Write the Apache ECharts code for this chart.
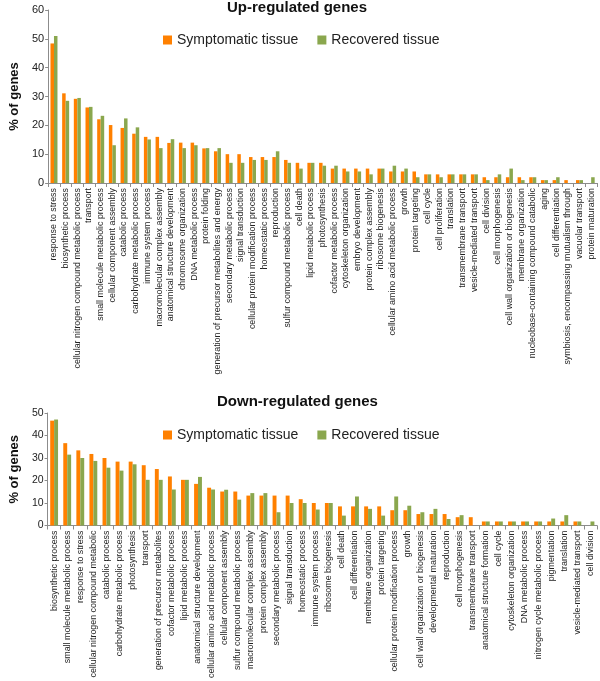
<!DOCTYPE html>
<html>
<head>
<meta charset="utf-8">
<script src="https://cdn.jsdelivr.net/npm/echarts@6/dist/echarts.min.js"></script>
<style>
html,body{margin:0;padding:0;background:#fff;}
#chart{width:600px;height:681px;}
</style>
</head>
<body>
<div id="chart"></div>
<script>
var upCategories = ["response to stress","biosynthetic process","cellular nitrogen compound metabolic process","transport","small molecule metabolic process","cellular component assembly","catabolic process","carbohydrate metabolic process","immune system process","macromolecular complex assembly","anatomical structure development","chromosome organization","DNA metabolic process","protein folding","generation of precursor metabolites and energy","secondary metabolic process","signal transduction","cellular protein modification process","homeostatic process","reproduction","sulfur compound metabolic process","cell death","lipid metabolic process","photosynthesis","cofactor metabolic process","cytoskeleton organization","embryo development","protein complex assembly","ribosome biogenesis","cellular amino acid metabolic process","growth","protein targeting","cell cycle","cell proliferation","translation","transmembrane transport","vesicle-mediated transport","cell division","cell morphogenesis","cell wall organization or biogenesis","membrane organization","nucleobase-containing compound catabolic","aging","cell differentiation","symbiosis, encompassing mutualism through","vacuolar transport","protein maturation"];
var upSymptomatic = [48.4,31.1,29.2,26.2,22.1,20.1,19.1,17.1,16.0,16.0,13.9,14.0,14.0,12.0,11.0,10.0,10.0,9.0,9.0,9.0,8.0,7.0,7.0,7.0,5.0,5.0,5.0,5.0,5.0,4.0,4.0,4.0,3.0,3.0,3.0,3.0,3.0,2.0,2.0,2.0,2.0,2.0,1.0,1.0,1.0,1.0,0];
var upRecovered = [51.0,28.5,29.5,26.4,23.3,13.1,22.4,19.3,15.1,12.1,15.2,12.1,13.1,12.1,12.1,7.0,7.0,8.0,8.0,11.0,7.0,5.0,7.0,6.0,6.0,4.0,4.0,3.0,5.0,6.0,5.0,2.0,3.0,2.0,3.0,3.0,3.0,1.0,3.0,5.0,1.0,2.0,1.0,2.0,0,1.0,2.0];

var downCategories = ["biosynthetic process","small molecule metabolic process","response to stress","cellular nitrogen compound metabolic","catabolic process","carbohydrate metabolic process","photosynthesis","transport","generation of precursor metabolites","cofactor metabolic process","lipid metabolic process","anatomical structure development","cellular amino acid metabolic process","cellular component assembly","sulfur compound metabolic process","macromolecular complex assembly","protein complex assembly","secondary metabolic process","signal transduction","homeostatic process","immune system process","ribosome biogenesis","cell death","cell differentiation","membrane organization","protein targeting","cellular protein modification process","growth","cell wall organization or biogenesis","developmental maturation","reproduction","cell morphogenesis","transmembrane transport","anatomical structure formation","cell cycle","cytoskeleton organization","DNA metabolic process","nitrogen cycle metabolic process","pigmentation","translation","vesicle-mediated transport","cell division"];
var downSymptomatic = [46.6,36.6,33.4,31.8,30.0,28.4,28.4,26.8,25.1,21.8,20.3,18.5,16.8,15.1,15.1,13.3,13.3,13.3,13.3,11.7,10.0,10.0,8.5,8.5,8.5,8.5,6.8,6.8,5.1,5.1,5.1,3.7,3.7,1.8,1.8,1.8,1.8,1.8,1.8,1.8,1.8,0];
var downRecovered = [47.1,31.5,30.0,28.7,25.7,24.4,27.2,20.3,20.3,16.0,20.3,21.6,16.0,15.9,11.5,14.4,14.4,5.9,10.0,10.0,7.1,10.0,4.4,12.9,7.4,4.4,12.9,8.8,5.9,7.4,2.9,4.6,0,1.8,1.8,1.8,1.8,1.8,3.1,4.6,1.8,1.8];

var upTicks = [0,10,20,30,40,50,60];
var downTicks = [0,10,20,30,40,50];

var ORANGE = '#FF8000';
var GREEN = '#8AA74E';
var FONT = 'Liberation Sans';
var axisGrey = '#8C8C8C';

var chart = echarts.init(document.getElementById('chart'), null, {renderer:'canvas'});

function xAxisDef(idx, cats){
  return {
    type:'category', gridIndex: idx, data: cats,
    axisLine:{lineStyle:{color:axisGrey, width:1}},
    axisTick:{show:true, length:4, lineStyle:{color:axisGrey}},
    axisLabel:{rotate:90, interval:0, fontSize:8.9, fontFamily:FONT, color:'#222', margin:5}
  };
}
function yAxisDef(idx, ticks){
  return {
    type:'value', gridIndex: idx, min: ticks[0], max: ticks[ticks.length-1], interval: ticks[1]-ticks[0],
    name:'% of genes', nameLocation:'middle', nameRotate:90, nameGap:25,
    nameTextStyle:{fontSize:13, fontWeight:'bold', fontFamily:FONT, color:'#111'},
    axisLine:{show:true, lineStyle:{color:axisGrey}},
    axisTick:{show:true, length:3, lineStyle:{color:axisGrey}},
    splitLine:{show:false},
    axisLabel:{fontSize: idx===0 ? 11 : 10.5, fontFamily:FONT, color:'#222', margin:4}
  };
}
function barSeries(name, color, xi, data){
  return {
    type:'bar', name:name, xAxisIndex:xi, yAxisIndex:xi, data:data,
    barWidth:'30%', barGap:'0%', itemStyle:{color:color}, animation:false
  };
}

var option = {
  animation:false,
  title:[
    {text:'Up-regulated genes', left:227, top:0, padding:0,
     textStyle:{fontSize:15, fontWeight:'bold', fontFamily:FONT, color:'#111'}},
    {text:'Down-regulated genes', left:217, top:394, padding:0,
     textStyle:{fontSize:15, fontWeight:'bold', fontFamily:FONT, color:'#111'}}
  ],
  legend:[
    {left:163, top:33, itemWidth:9, itemHeight:9, itemGap:19, padding:0, icon:'rect',
     data:['Symptomatic tissue','Recovered tissue'],
     textStyle:{fontSize:14, fontFamily:FONT, color:'#222'}},
    {left:163, top:428, itemWidth:9, itemHeight:9, itemGap:19, padding:0, icon:'rect',
     data:['Symptomatic tissue','Recovered tissue'],
     textStyle:{fontSize:14, fontFamily:FONT, color:'#222'}}
  ],
  grid:[
    {left:41, top:10, width:556, height:173},
    {left:41, top:413, width:556, height:113}
  ],
  xAxis:[xAxisDef(0, upCategories), xAxisDef(1, downCategories)],
  yAxis:[yAxisDef(0, upTicks), yAxisDef(1, downTicks)],
  series:[
    barSeries('Symptomatic tissue', ORANGE, 0, upSymptomatic),
    barSeries('Recovered tissue', GREEN, 0, upRecovered),
    barSeries('Symptomatic tissue', ORANGE, 1, downSymptomatic),
    barSeries('Recovered tissue', GREEN, 1, downRecovered)
  ]
};
chart.setOption(option);
</script>
</body>
</html>
